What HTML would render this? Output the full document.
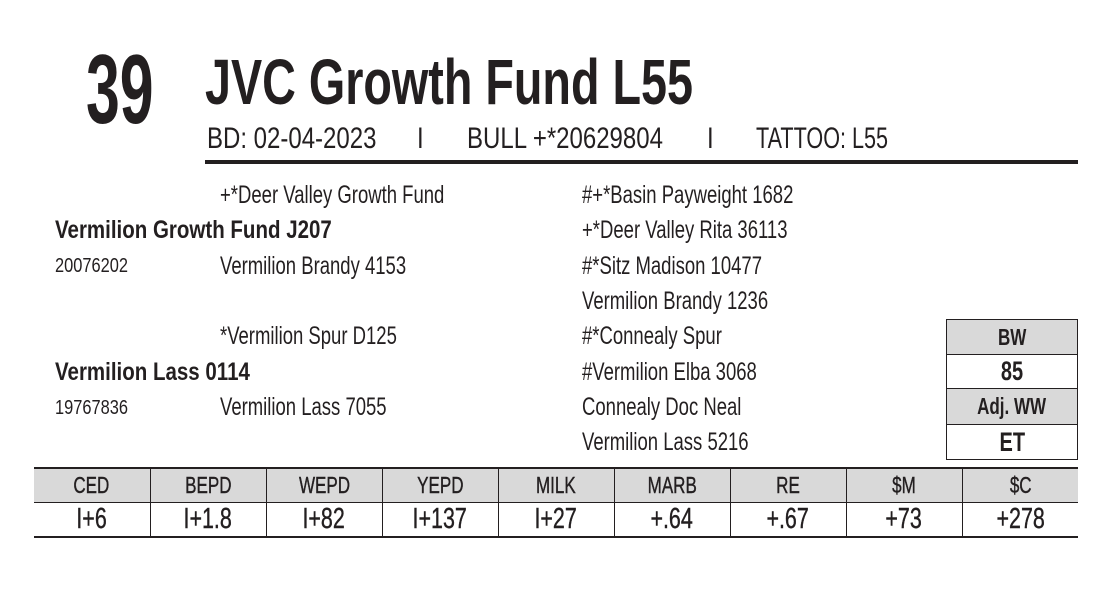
<!DOCTYPE html>
<html><head><meta charset="utf-8"><style>
body{margin:0;width:1115px;height:590px;background:#fff;position:relative;overflow:hidden;font-family:"Liberation Sans",sans-serif;color:#231f20}
.t{position:absolute;white-space:nowrap;transform:scaleX(.74);transform-origin:left center;line-height:1}
.p{font-size:25px}
.b{font-weight:bold}
table{position:absolute;border-collapse:collapse}
td{text-align:center;padding:0;overflow:visible;white-space:nowrap}
td span{display:inline-block;transform:scaleX(.74);line-height:1}
</style></head><body>
<div class="t b" style="left:86px;top:40px;font-size:98px;transform:scaleX(.62)">39</div>
<div class="t b" style="left:205px;top:50px;font-size:64px;transform:scaleX(.73)">JVC Growth Fund L55</div>
<div class="t" style="left:207px;top:124px;font-size:30px;transform:scaleX(.8)">BD: 02-04-2023</div>
<div class="t" style="left:417px;top:124px;font-size:30px;transform:scaleX(.8)">I</div>
<div class="t" style="left:467px;top:124px;font-size:30px;transform:scaleX(.8)">BULL +*20629804</div>
<div class="t" style="left:707px;top:124px;font-size:30px;transform:scaleX(.8)">I</div>
<div class="t" style="left:756px;top:124px;font-size:30px;transform:scaleX(.72)">TATTOO: L55</div>
<div style="position:absolute;left:205px;top:160px;width:873px;height:4px;background:#231f20"></div>

<div class="t p" style="left:220px;top:183px">+*Deer Valley Growth Fund</div>
<div class="t p b" style="left:55px;top:218px;transform:scaleX(.82)">Vermilion Growth Fund J207</div>
<div class="t" style="left:55px;top:256px;font-size:20px;transform:scaleX(.82)">20076202</div>
<div class="t p" style="left:220px;top:254px">Vermilion Brandy 4153</div>
<div class="t p" style="left:220px;top:324px">*Vermilion Spur D125</div>
<div class="t p b" style="left:55px;top:360px;transform:scaleX(.82)">Vermilion Lass 0114</div>
<div class="t" style="left:55px;top:398px;font-size:20px;transform:scaleX(.82)">19767836</div>
<div class="t p" style="left:220px;top:395px">Vermilion Lass 7055</div>

<div class="t p" style="left:582px;top:183px">#+*Basin Payweight 1682</div>
<div class="t p" style="left:582px;top:218px">+*Deer Valley Rita 36113</div>
<div class="t p" style="left:582px;top:254px">#*Sitz Madison 10477</div>
<div class="t p" style="left:582px;top:289px">Vermilion Brandy 1236</div>
<div class="t p" style="left:582px;top:324px">#*Connealy Spur</div>
<div class="t p" style="left:582px;top:360px">#Vermilion Elba 3068</div>
<div class="t p" style="left:582px;top:395px">Connealy Doc Neal</div>
<div class="t p" style="left:582px;top:430px">Vermilion Lass 5216</div>

<table style="left:946px;top:319px;width:132px">
<tr style="height:35px;background:#d9d9d9"><td style="border:1px solid #231f20;font-weight:bold;font-size:23px"><span>BW</span></td></tr>
<tr style="height:34px"><td style="border:1px solid #231f20;font-weight:bold;font-size:27px"><span>85</span></td></tr>
<tr style="height:36px;background:#d9d9d9"><td style="border:1px solid #231f20;font-weight:bold;font-size:23px"><span>Adj. WW</span></td></tr>
<tr style="height:35px"><td style="border:1px solid #231f20;font-weight:bold;font-size:27px"><span>ET</span></td></tr>
</table>

<table style="left:34px;top:467px;width:1044px;table-layout:fixed;border-top:2px solid #231f20;border-bottom:2px solid #231f20">
<tr style="height:34px;background:#d9d9d9;font-size:23px;-webkit-text-stroke:0.4px #231f20">
<td style="border-right:1px solid #231f20"><span>CED</span></td><td style="border-right:1px solid #231f20"><span>BEPD</span></td><td style="border-right:1px solid #231f20"><span>WEPD</span></td><td style="border-right:1px solid #231f20"><span>YEPD</span></td><td style="border-right:1px solid #231f20"><span>MILK</span></td><td style="border-right:1px solid #231f20"><span>MARB</span></td><td style="border-right:1px solid #231f20"><span>RE</span></td><td style="border-right:1px solid #231f20"><span>$M</span></td><td><span>$C</span></td></tr>
<tr style="height:35px;font-size:29px;border-top:1px solid #231f20;-webkit-text-stroke:0.4px #231f20">
<td style="border-right:1px solid #231f20"><span>I+6</span></td><td style="border-right:1px solid #231f20"><span>I+1.8</span></td><td style="border-right:1px solid #231f20"><span>I+82</span></td><td style="border-right:1px solid #231f20"><span>I+137</span></td><td style="border-right:1px solid #231f20"><span>I+27</span></td><td style="border-right:1px solid #231f20"><span>+.64</span></td><td style="border-right:1px solid #231f20"><span>+.67</span></td><td style="border-right:1px solid #231f20"><span>+73</span></td><td><span>+278</span></td></tr>
</table>
</body></html>
